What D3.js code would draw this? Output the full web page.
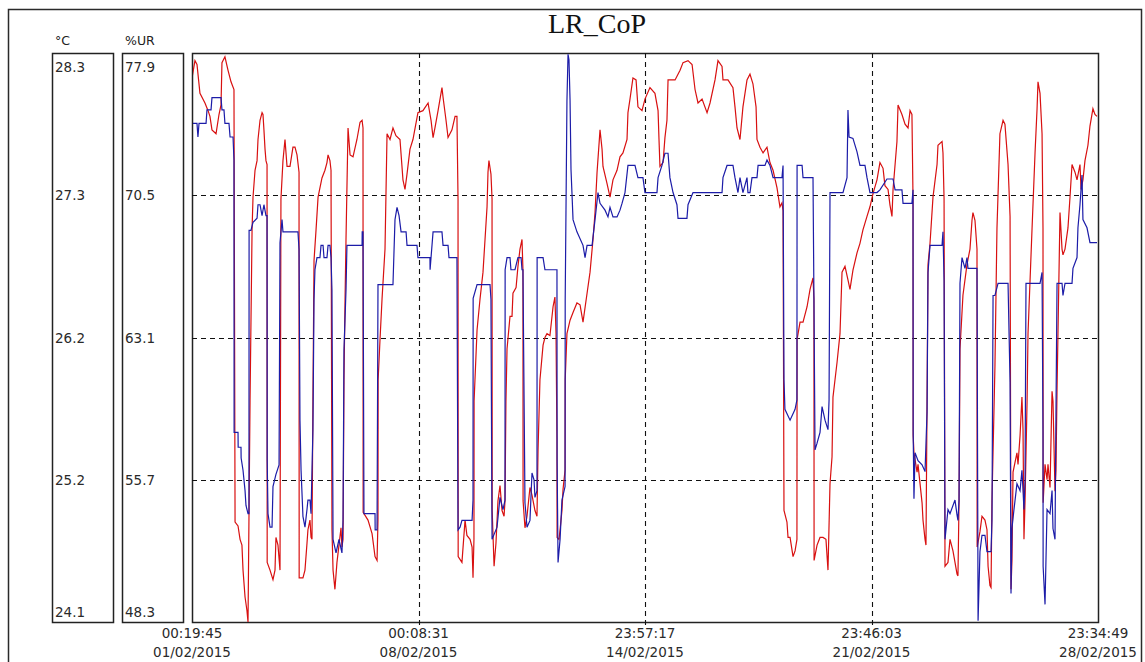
<!DOCTYPE html>
<html><head><meta charset="utf-8">
<script src="https://cdn.jsdelivr.net/npm/d3@7"></script>
<style>body{margin:0;background:#fff;}svg{display:block;}</style>
</head><body><svg id="c" width="1145" height="662"></svg>
<script>
const chartTitle = "LR_CoP";
const unitTemp = "°C";
const unitHum = "%UR";
const startTime = Date.UTC(2015, 1, 1, 0, 19, 45);
const endTime = Date.UTC(2015, 1, 28, 23, 34, 49);
const tempDomain = [24.1, 28.3];
const humDomain = [48.3, 77.9];
const tempTickLabels = ["28.3", "27.3", "26.2", "25.2", "24.1"];
const humTickLabels = ["77.9", "70.5", "63.1", "55.7", "48.3"];
const timeTickLabels = ["00:19:45", "00:08:31", "23:57:17", "23:46:03", "23:34:49"];
const dateTickLabels = ["01/02/2015", "08/02/2015", "14/02/2015", "21/02/2015", "28/02/2015"];

// [hours since start, %UR]
const humSeries = [[0,76.6],[2.2,77.5],[3.7,77.3],[5.9,75.8],[9.6,75.3],[11.9,74.9],[13.3,74.6],[14.8,73.9],[17.8,73.7],[20.0,74.7],[21.5,75.2],[22.2,77.4],[24.4,77.7],[26.7,77.0],[28.9,76.4],[31.1,76.0],[31.9,53.5],[34.1,53.3],[35.6,52.6],[37.0,52.3],[37.8,51.0],[39.3,49.6],[40.7,48.9],[41.5,48.3],[43.0,59.8],[44.5,68.7],[45.2,70.4],[46.7,71.8],[48.2,72.3],[48.9,73.4],[50.4,74.4],[51.9,74.8],[52.6,74.7],[53.3,73.9],[54.1,72.9],[54.8,72.3],[55.6,72.1],[55.7,51.4],[57.8,51.0],[60.0,50.5],[61.5,51.0],[62.2,52.7],[63.7,52.3],[65.2,51.0],[65.9,70.3],[67.4,72.3],[68.9,73.4],[70.4,72.0],[72.6,72.0],[74.8,73.0],[76.3,73.0],[77.8,72.6],[79.3,71.7],[79.4,50.6],[82.2,50.6],[83.7,51.0],[85.2,52.4],[85.9,53.1],[87.4,53.6],[88.2,52.7],[88.9,52.6],[89.6,59.8],[90.4,67.1],[91.9,68.7],[93.4,70.4],[96.3,71.4],[98.5,71.8],[100.0,72.2],[100.8,72.6],[102.2,72.3],[103.0,71.8],[103.7,53.1],[104.5,51.0],[105.9,50.0],[107.4,51.4],[108.9,52.3],[110.4,53.2],[111.1,52.2],[111.9,52.6],[112.6,60.9],[113.4,65.1],[114.1,68.2],[115.6,74.0],[117.1,72.6],[119.3,72.5],[122.2,73.4],[124.5,74.3],[126.0,74.4],[126.7,74.0],[126.8,54.0],[130.4,53.6],[133.4,52.9],[135.6,51.7],[137.1,51.5],[137.8,53.6],[137.9,60.9],[139.3,63.0],[140.8,65.1],[143.0,67.7],[144.5,73.7],[146.7,73.4],[148.9,74.0],[151.1,73.6],[154.1,73.4],[156.3,71.3],[157.8,70.8],[159.3,71.6],[161.5,72.9],[163.7,73.4],[167.4,74.8],[171.1,74.9],[174.9,75.3],[177.1,74.4],[178.6,73.5],[180.0,74.0],[182.3,74.9],[185.2,76.1],[186.0,75.6],[188.2,74.4],[189.7,73.5],[192.6,73.9],[194.9,74.6],[196.3,74.6],[197.1,70.3],[197.2,51.7],[200.0,51.4],[202.3,53.6],[203.7,52.8],[206.0,52.6],[207.5,52.2],[208.2,50.6],[208.9,52.6],[209.0,59.8],[211.2,63.5],[213.4,65.1],[215.6,66.5],[217.1,68.2],[218.6,69.9],[219.3,71.7],[220.0,72.3],[221.5,71.6],[222.3,70.3],[222.4,54.1],[223.8,51.2],[225.2,52.4],[226.7,54.6],[228.2,55.4],[229.7,54.1],[231.2,53.8],[231.9,54.6],[232.6,59.8],[233.4,62.5],[235.6,64.2],[237.1,64.2],[237.8,65.4],[240.1,65.7],[241.5,66.8],[243.0,67.7],[244.5,68.2],[245.2,66.6],[245.3,54.6],[246.7,53.2],[248.2,53.8],[250.4,55.3],[251.9,54.9],[254.1,54.1],[255.6,53.8],[256.4,57.3],[257.8,60.9],[260.1,62.7],[261.5,63.1],[263.0,63.3],[265.2,63.2],[267.5,64.7],[268.9,65.2],[269.7,63.3],[270.4,57.8],[270.5,52.7],[271.9,52.6],[272.7,53.1],[274.1,54.1],[274.9,55.2],[276.4,56.2],[276.5,60.9],[277.8,63.3],[280.1,64.0],[282.3,64.4],[285.2,64.9],[287.5,64.8],[289.7,63.9],[292.7,65.4],[294.9,66.5],[297.1,68.2],[298.6,69.6],[300.1,71.7],[302.3,73.9],[303.8,72.9],[304.5,72.0],[307.5,71.1],[309.7,70.4],[311.9,71.3],[314.9,71.8],[317.1,72.5],[319.3,72.7],[322.3,73.4],[323.0,74.8],[324.5,75.5],[326.7,76.6],[329.0,76.5],[330.4,75.1],[333.4,74.9],[335.6,75.5],[339.3,76.1],[343.0,75.8],[345.3,74.9],[346.0,73.4],[346.7,72.0],[349.0,72.2],[350.4,73.5],[351.9,74.4],[352.7,76.5],[357.9,76.5],[361.6,77.0],[363.8,77.4],[367.5,77.5],[370.5,77.3],[372.7,76.0],[374.9,75.3],[377.9,75.5],[381.6,74.8],[383.8,75.3],[387.5,76.5],[389.7,77.5],[392.7,77.2],[393.4,76.5],[397.1,76.5],[400.8,76.1],[402.3,75.1],[403.8,74.0],[406.0,73.4],[408.2,75.1],[411.2,76.5],[413.4,76.8],[415.6,76.3],[417.9,75.1],[418.6,73.4],[420.8,73.0],[423.1,72.7],[426.0,73.0],[428.2,72.2],[430.5,71.8],[433.4,70.9],[435.6,69.9],[437.1,70.1],[437.9,69.7],[438.6,54.1],[440.8,53.5],[441.6,52.7],[443.1,52.7],[445.3,51.7],[446.8,52.0],[448.2,52.6],[448.3,63.0],[450.5,63.9],[452.7,63.9],[455.7,64.7],[457.9,65.6],[460.1,66.2],[460.8,65.1],[460.9,51.5],[463.1,52.3],[465.3,52.7],[467.5,52.7],[469.7,52.6],[471.2,51.0],[472.7,55.5],[474.2,56.9],[474.9,60.0],[476.4,60.9],[477.9,61.8],[480.1,63.3],[481.6,66.5],[483.8,66.8],[486.0,66.1],[487.5,65.6],[489.7,66.6],[492.7,67.5],[494.9,68.0],[497.1,68.7],[500.1,69.4],[502.3,69.9],[504.6,70.6],[507.5,71.3],[509.7,72.2],[512.0,71.9],[513.4,71.0],[515.7,70.8],[517.1,70.0],[518.6,69.4],[519.4,70.8],[522.3,73.3],[523.1,75.2],[526.0,74.7],[528.3,74.2],[530.5,74.0],[532.0,74.9],[533.4,74.7],[534.2,70.3],[534.3,58.0],[534.9,57.1],[537.2,56.1],[537.9,56.5],[539.4,55.5],[540.9,54.5],[541.6,53.6],[543.1,52.6],[543.8,52.3],[544.6,59.8],[545.3,66.9],[546.8,68.0],[549.0,70.4],[552.0,72.1],[552.7,73.1],[555.7,73.3],[556.4,72.7],[557.2,70.3],[557.9,51.2],[560.1,51.4],[561.6,52.6],[563.8,52.0],[566.8,50.8],[567.5,50.7],[568.3,54.6],[569.0,62.5],[571.2,65.3],[574.2,66.9],[576.4,67.7],[577.9,69.2],[578.6,69.6],[580.1,69.2],[581.6,67.7],[581.7,52.2],[583.8,53.0],[585.3,53.8],[587.5,53.6],[589.0,53.1],[589.8,51.2],[591.2,50.2],[592.0,50.1],[592.7,54.6],[594.9,61.6],[596.4,68.8],[598.6,73.7],[600.9,74.4],[602.3,74.2],[604.6,72.1],[606.1,69.4],[606.8,50.0],[607.5,51.5],[608.3,56.1],[611.2,57.1],[612.0,56.5],[613.5,58.0],[614.9,60.0],[615.7,58.3],[616.4,52.6],[617.2,54.6],[618.7,59.8],[619.4,63.3],[622.4,68.8],[624.6,72.7],[626.1,75.0],[626.8,76.4],[628.3,75.8],[629.8,73.7],[630.5,68.8],[630.6,54.5],[632.0,56.5],[633.5,55.7],[634.2,56.5],[635.7,55.3],[637.2,60.3],[637.9,59.8],[639.4,55.1],[640.1,56.2],[640.9,60.4],[643.1,69.6],[644.6,67.7],[645.3,67.4],[646.8,67.7],[649.0,68.8],[650.5,70.4],[652.0,72.1],[654.2,71.7],[655.7,71.3],[657.9,72.1],[658.7,70.8],[660.1,71.3],[661.6,72.3],[663.8,73.1],[665.3,74.1],[667.5,75.0],[669.0,74.7],[670.5,74.6]];

// [hours since start, °C]
const tempSeries = [[0.7,27.78],[3.7,27.78],[4.4,27.68],[5.2,27.78],[10.4,27.78],[11.1,27.88],[14.1,27.88],[14.8,27.97],[21.5,27.97],[22.2,27.88],[23.7,27.88],[24.4,27.78],[27.4,27.78],[28.2,27.68],[30.4,27.68],[31.1,27.51],[31.2,25.50],[34.1,25.50],[34.2,25.39],[36.3,25.39],[36.4,25.31],[37.8,25.22],[39.3,25.07],[40.0,24.96],[41.5,24.90],[42.2,24.90],[42.3,26.99],[43.7,26.99],[45.2,27.05],[48.2,27.08],[48.9,27.18],[50.4,27.18],[51.9,27.10],[53.3,27.18],[54.8,27.10],[55.6,27.10],[55.7,25.30],[56.3,24.90],[57.8,24.80],[59.3,24.80],[60.0,25.10],[62.2,25.19],[64.5,25.26],[65.2,26.90],[66.7,27.07],[67.4,26.98],[78.5,26.98],[79.3,26.85],[80.0,25.59],[80.8,25.22],[82.2,24.88],[83.7,24.80],[85.2,24.93],[85.9,25.00],[87.4,25.00],[88.2,24.90],[88.9,25.22],[89.6,25.52],[90.4,26.48],[91.1,26.70],[92.6,26.79],[94.8,26.79],[95.6,26.88],[97.1,26.88],[97.8,26.79],[100.0,26.79],[100.8,26.88],[102.2,26.88],[103.0,26.79],[103.7,26.55],[104.5,24.71],[106.7,24.61],[108.9,24.71],[111.1,24.61],[111.9,24.85],[112.6,26.11],[114.1,26.55],[114.8,26.88],[126.0,26.88],[126.1,26.98],[126.7,26.98],[127.4,24.90],[135.6,24.90],[135.7,24.78],[137.1,24.78],[137.8,26.59],[148.9,26.59],[150.4,27.07],[151.9,27.16],[153.4,27.10],[154.9,26.98],[158.6,26.98],[159.3,26.88],[166.7,26.88],[167.4,26.79],[176.3,26.79],[176.4,26.70],[177.1,26.79],[178.6,26.98],[185.2,26.98],[186.0,26.88],[189.7,26.88],[190.4,26.79],[196.3,26.79],[197.1,24.78],[198.6,24.80],[200.0,24.85],[207.5,24.85],[208.2,25.00],[208.3,26.49],[211.2,26.59],[220.8,26.59],[221.5,26.48],[222.3,24.71],[226.0,24.80],[228.2,25.02],[230.4,24.93],[231.9,25.00],[232.0,26.70],[233.4,26.79],[235.6,26.79],[236.3,26.70],[239.3,26.70],[241.5,26.79],[243.8,26.79],[244.5,26.70],[245.2,26.70],[246.7,24.98],[248.2,24.80],[250.4,24.85],[251.9,25.20],[253.4,25.15],[254.1,25.02],[255.6,25.07],[255.7,26.79],[260.1,26.79],[261.5,26.70],[270.4,26.70],[270.5,25.30],[271.2,24.54],[272.7,24.71],[274.1,25.00],[276.4,25.10],[276.5,26.48],[277.8,27.95],[278.6,28.29],[279.3,28.25],[280.1,27.95],[280.8,27.44],[281.5,27.27],[282.3,27.07],[285.2,26.98],[289.7,26.88],[291.2,26.79],[292.7,26.88],[296.4,26.88],[298.6,27.07],[300.8,27.27],[302.3,27.19],[306.0,27.14],[308.2,27.09],[309.7,27.16],[311.9,27.09],[314.9,27.09],[317.1,27.14],[318.6,27.19],[320.8,27.27],[323.0,27.47],[328.2,27.47],[330.4,27.38],[334.1,27.38],[335.6,27.27],[344.5,27.27],[345.3,27.38],[348.2,27.47],[350.4,27.56],[352.7,27.56],[354.1,27.38],[356.4,27.27],[359.3,27.18],[360.1,27.08],[366.7,27.08],[367.5,27.18],[371.2,27.27],[392.7,27.27],[393.4,27.38],[396.4,27.47],[400.8,27.47],[402.3,27.38],[404.5,27.27],[406.0,27.38],[408.2,27.27],[411.2,27.38],[411.9,27.27],[413.4,27.27],[414.9,27.38],[418.6,27.38],[419.4,27.47],[424.5,27.47],[426.0,27.51],[428.2,27.47],[430.5,27.38],[437.1,27.38],[437.9,27.47],[438.6,25.89],[439.3,25.67],[443.1,25.59],[446.8,25.67],[448.2,25.74],[448.3,27.47],[452.0,27.47],[452.7,27.38],[460.1,27.38],[460.8,26.48],[461.6,25.37],[463.1,25.42],[465.3,25.50],[466.8,25.69],[469.0,25.59],[471.2,25.52],[472.0,25.74],[472.7,27.27],[482.3,27.27],[485.3,27.38],[486.0,27.88],[486.8,27.68],[489.7,27.67],[492.7,27.57],[494.9,27.47],[498.6,27.47],[500.1,27.38],[502.3,27.27],[507.5,27.27],[509.7,27.29],[514.9,27.37],[519.4,27.37],[520.9,27.29],[526.0,27.29],[526.8,27.19],[533.4,27.19],[534.2,27.29],[534.3,25.51],[534.9,25.01],[535.7,25.35],[537.9,25.29],[540.9,25.26],[543.1,25.21],[544.6,25.65],[545.3,26.68],[546.8,26.88],[555.7,26.88],[556.4,26.98],[557.2,26.62],[557.9,24.71],[560.1,24.93],[561.6,24.90],[565.3,25.00],[566.8,24.89],[567.5,24.85],[568.3,25.00],[569.0,26.60],[570.5,26.79],[572.7,26.71],[574.2,26.79],[574.9,26.71],[581.6,26.71],[581.7,26.40],[582.4,24.11],[583.8,24.62],[585.3,24.74],[587.5,24.74],[589.0,24.62],[592.0,24.62],[592.7,24.85],[593.5,26.51],[594.9,26.51],[597.2,26.60],[604.6,26.60],[606.1,25.87],[606.8,24.31],[607.5,24.79],[609.0,24.93],[611.2,25.12],[613.5,25.07],[614.9,25.22],[615.7,25.07],[616.4,24.93],[617.2,25.15],[617.9,26.60],[628.3,26.60],[629.8,26.68],[630.5,25.51],[630.6,24.51],[632.0,24.23],[633.5,24.93],[635.7,24.90],[637.2,25.07],[637.9,24.79],[639.4,24.71],[640.1,25.62],[640.9,26.60],[644.6,26.60],[645.3,26.51],[646.8,26.60],[652.0,26.60],[652.7,26.71],[655.7,26.79],[656.4,27.01],[657.9,27.18],[659.4,27.40],[660.1,27.07],[663.1,27.01],[665.3,26.90],[670.5,26.90]];

const svg = d3.select("#c");
const P = {l: 192, r: 1098, t: 53, b: 622};
const HOUR = 3600000;
const x = d3.scaleUtc().domain([new Date(startTime), new Date(endTime)]).range([P.l, P.r]);
const yT = d3.scaleLinear().domain(tempDomain).range([P.b, P.t]);
const yH = d3.scaleLinear().domain(humDomain).range([P.b, P.t]);
const span = endTime - startTime;
const tickDates = d3.range(5).map(i => new Date(startTime + i * span / 4));
const quarterY = d3.range(5).map(i => P.t + i * (P.b - P.t) / 4);

const font = "'DejaVu Sans', Verdana, sans-serif";

// outer frame
svg.append("rect").attr("x", 8.5).attr("y", 9.5).attr("width", 1133).attr("height", 700)
  .attr("fill", "none").attr("stroke", "#2a2a2a").attr("stroke-width", 1.5);

// title
svg.append("text").attr("x", 597).attr("y", 33).attr("text-anchor", "middle")
  .attr("font-family", "'Liberation Serif', 'Times New Roman', serif").attr("font-size", 28)
  .attr("fill", "#111").text(chartTitle);

// left boxes
const boxes = [
  {x0: 52, x1: 113, unit: unitTemp, labels: tempTickLabels},
  {x0: 122, x1: 183, unit: unitHum, labels: humTickLabels}
];
boxes.forEach(b => {
  svg.append("rect").attr("x", b.x0 + 0.5).attr("y", P.t + 0.5).attr("width", b.x1 - b.x0)
    .attr("height", P.b - P.t).attr("fill", "none").attr("stroke", "#222").attr("stroke-width", 1.5);
  svg.append("text").attr("x", b.x0 + 3).attr("y", 45).attr("font-family", font)
    .attr("font-size", 12.5).attr("fill", "#222").text(b.unit);
  svg.selectAll(null).data(b.labels).enter().append("text")
    .attr("x", b.x0 + 3)
    .attr("y", (d, i) => i === 0 ? P.t + 19 : (i === 4 ? P.b - 5 : quarterY[i] + 5))
    .attr("font-family", font).attr("font-size", 13.5).attr("fill", "#2a2a2a").text(d => d);
});

// plot box
svg.append("rect").attr("x", P.l + 0.5).attr("y", P.t + 0.5).attr("width", P.r - P.l)
  .attr("height", P.b - P.t).attr("fill", "#fff").attr("stroke", "#222").attr("stroke-width", 1.5);

// gridlines
const grid = svg.append("g").attr("stroke", "#111").attr("stroke-width", 1.1).attr("stroke-dasharray", "5,4");
humTickLabels.slice(1, 4).forEach((lab, k) => {
  const yy = Math.round(yH(humDomain[1] - (k + 1) * (humDomain[1] - humDomain[0]) / 4)) + 0.5;
  grid.append("line").attr("x1", P.l).attr("x2", P.r).attr("y1", yy).attr("y2", yy);
});
tickDates.slice(1, 4).forEach(d => {
  const xx = Math.round(x(d)) + 0.5;
  grid.append("line").attr("x1", xx).attr("x2", xx).attr("y1", P.t).attr("y2", P.b + 5);
});

// x labels
tickDates.forEach((d, i) => {
  svg.append("text").attr("x", x(d)).attr("y", 638).attr("text-anchor", "middle")
    .attr("font-family", font).attr("font-size", 13.5).attr("fill", "#2a2a2a").text(timeTickLabels[i]);
  svg.append("text").attr("x", x(d)).attr("y", 657).attr("text-anchor", "middle")
    .attr("font-family", font).attr("font-size", 13.5).attr("fill", "#2a2a2a").text(dateTickLabels[i]);
});

// clip
svg.append("clipPath").attr("id", "clip").append("rect")
  .attr("x", P.l + 1).attr("y", P.t + 1).attr("width", P.r - P.l - 1).attr("height", P.b - P.t - 1);

const toDate = h => new Date(startTime + h * HOUR);
const humLine = d3.line().x(d => x(toDate(d[0]))).y(d => yH(d[1]));
const tempLine = d3.line().x(d => x(toDate(d[0]))).y(d => yT(d[1]));

const g = svg.append("g").attr("clip-path", "url(#clip)");
g.append("path").datum(humSeries).attr("d", humLine).attr("fill", "none")
  .attr("stroke", "#d81010").attr("stroke-width", 1.2).attr("stroke-linejoin", "miter");
g.append("path").datum(tempSeries).attr("d", tempLine).attr("fill", "none")
  .attr("stroke", "#1c1ca8").attr("stroke-width", 1.2).attr("stroke-linejoin", "miter");
</script></body></html>
